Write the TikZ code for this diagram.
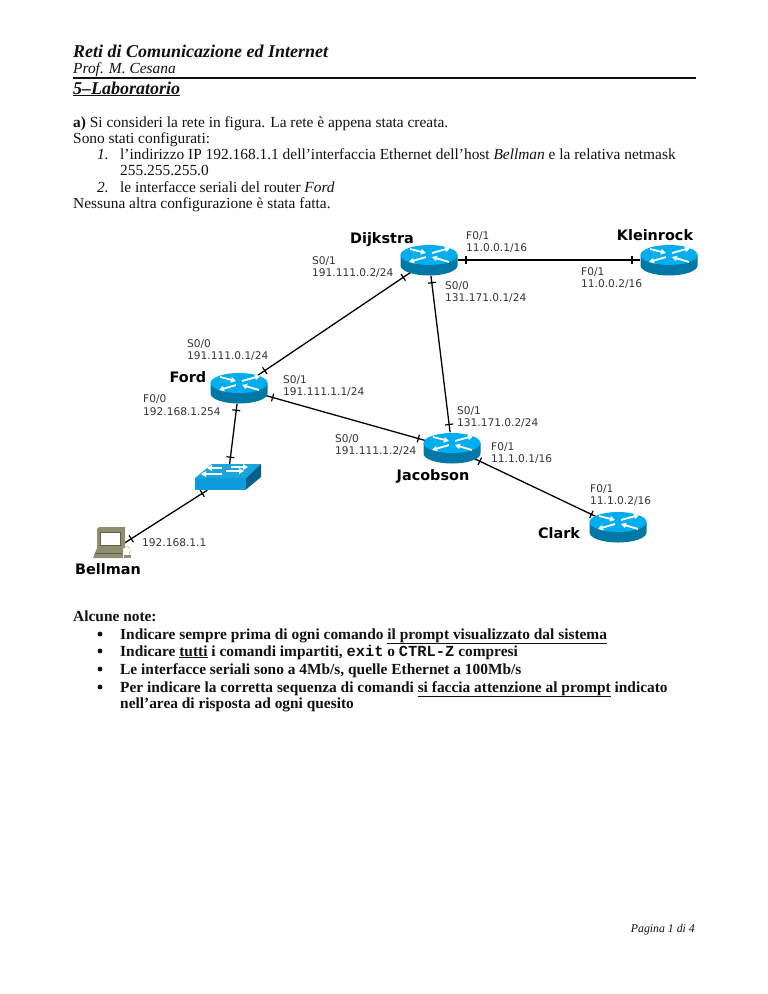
\documentclass[tikz,border=0pt]{standalone}
\usepackage{fontspec}
\setmainfont{Liberation Serif}
\setmonofont{Liberation Mono}
\newfontfamily\netfont{DejaVu Sans}
\usetikzlibrary{arrows.meta, shapes.geometric}
\definecolor{ink}{HTML}{111111}
\definecolor{lblgray}{HTML}{333333}
\definecolor{rtop}{HTML}{00AEEF}
\definecolor{rside}{HTML}{0078A6}
\definecolor{swtop}{HTML}{1AA5DC}
\definecolor{swfront}{HTML}{0C9CDC}
\definecolor{swside}{HTML}{04628A}
\definecolor{pcbody}{HTML}{8E8E70}
\definecolor{pcdark}{HTML}{5F5F48}
\tikzset{
  body/.style={font=\fontsize{15.4}{16.3}\selectfont, text=ink, anchor=base west, inner sep=0pt},
  bodyb/.style={body, font=\fontsize{15.4}{16.3}\selectfont\bfseries},
  headt/.style={body, font=\fontsize{18}{20}\selectfont\bfseries\itshape},
  %
  rnode/.style={ellipse, minimum width=57pt, minimum height=31pt, inner sep=0pt},
  swnode/.style={rectangle, minimum width=66pt, minimum height=26pt, inner sep=0pt},
  pcnode/.style={rectangle, minimum width=22pt, minimum height=30pt, inner sep=0pt},
  %
  link/.style={draw=black, line width=1.3pt},
  tick/.style={sloped, fill=black, minimum width=1.2pt, minimum height=8pt, inner sep=0pt, rectangle},
  %
  iface/.style={font=\netfont\fontsize{10.6}{12.5}\selectfont, text=lblgray, align=left, anchor=west, inner sep=0pt},
  rname/.style={font=\netfont\bfseries\fontsize{14.4}{16}\selectfont, text=black, inner sep=0pt},
  wharrow/.style={draw=white, line width=1.8pt, -{Triangle[length=5pt, width=5.5pt]}},
  %
  router/.pic={
    \fill[rside] (-28.5,-5) -- (-28.5,5.5) arc[start angle=180, end angle=0, x radius=28.5, y radius=10] -- (28.5,-5) -- cycle;
    \fill[rtop] (0,-5) ellipse[x radius=28.5, y radius=10];
    \draw[wharrow] (-19,-11) -- (-3,-7);
    \draw[wharrow] (3,-7) -- (21,-12);
    \draw[wharrow] (-3,-3) -- (-20,2);
    \draw[wharrow] (20,2) -- (3,-3);
  },
  switchbox/.pic={
    \fill[swtop] (-33,1) -- (-16,-13) -- (33,-13) -- (18,1) -- cycle;
    \fill[swfront] (-33,1) rectangle (18,12.5);
    \fill[swside] (18,1) -- (33,-13) -- (33,0) -- (18,12.5) -- cycle;
    \draw[wharrow, line width=1.4pt] (-6,-9) -- (-21,-9);
    \draw[wharrow, line width=1.4pt] (3,-10) -- (20,-10);
    \draw[wharrow, line width=1.4pt] (-6,-3) -- (-27,-3);
    \draw[wharrow, line width=1.4pt] (-2,-6) -- (16,-6);
  },
  pcicon/.pic={
    \fill[pcbody] (-15,-22) -- (-13,-24) -- (13,-24) -- (13,-3) -- (-15,-3) -- cycle;
    \fill[white] (-12,-19) rectangle (8,-6);
    \draw[pcdark, line width=0.6pt] (-12,-19) rectangle (8,-6);
    \fill[pcbody] (-19,7) -- (-15,-3) -- (11,-3) -- (11,7) -- cycle;
    \draw[pcdark, line width=0.5pt] (-17,2) -- (10,2);
    \fill[pcbody] (12,4) rectangle (19,7);
    \draw[gray!60, line width=0.5pt] (12,-4) .. controls (18,-6) and (20,-2) .. (17,4);
  },
}
\begin{document}
\begin{tikzpicture}[x=1pt, y=-1pt]
\path[use as bounding box] (0,0) rectangle (768,994);

% ---------------------------------------------------------------- header
\node[headt] (title) at (73,57) {Reti di Comunicazione ed Internet};
\node[body, font=\fontsize{15.4}{16.3}\selectfont\itshape] (prof) at (73,73) {Prof. M. Cesana};
\draw[ink, line width=2pt] (73,78) -- (696,78);
\node[headt] (lab) at (73,94) {\underline{5--Laboratorio}};

% ------------------------------------------------------------------ text
\node[body] (t1) at (73,127) {\textbf{a)} Si consideri la rete in figura. La rete è appena stata creata.};
\node[body] (t2) at (73,143) {Sono stati configurati:};
\node[body] (n1) at (97,159) {\textit{1.}};
\node[body] (t3) at (120,159) {l’indirizzo IP 192.168.1.1 dell’interfaccia Ethernet dell’host \textit{Bellman} e la relativa netmask};
\node[body] (t4) at (120,175) {255.255.255.0};
\node[body] (n2) at (97,192) {\textit{2.}};
\node[body] (t5) at (120,192) {le interfacce seriali del router \textit{Ford}};
\node[body] (t6) at (73,208) {Nessuna altra configurazione è stata fatta.};

% --------------------------------------------------------------- network
\node[rnode] (dijkstra) at (429,260) {};
\node[rnode] (kleinrock) at (669,260) {};
\node[rnode] (ford) at (239,388) {};
\node[rnode] (jacobson) at (452,448) {};
\node[rnode] (clark) at (618,527) {};
\node[swnode] (sw) at (228,477) {};
\node[pcnode] (bellman) at (112,551) {};

\draw[link] (ford) -- node[tick, pos=0.05] {} node[tick, pos=0.95] {} (dijkstra);
\draw[link] (dijkstra) -- node[tick, pos=0.045] {} node[tick, pos=0.955] {} (kleinrock);
\draw[link] (dijkstra) -- node[tick, pos=0.045] {} node[tick, pos=0.95] {} (jacobson);
\draw[link] (ford) -- node[tick, pos=0.05] {} node[tick, pos=0.95] {} (jacobson);
\draw[link] (ford) -- node[tick, pos=0.11] {} node[tick, pos=0.89] {} (sw);
\draw[link] (sw) -- node[tick, pos=0.06] {} node[tick, pos=0.905] {} (bellman);
\draw[link] (jacobson) -- node[tick, pos=0.05] {} node[tick, pos=0.96] {} (clark);

\foreach \r in {dijkstra,kleinrock,ford,jacobson,clark} { \pic at (\r) {router}; }
\pic at (sw) {switchbox};
\pic at (bellman) {pcicon};

\node[rname] (ldij) at (382,240) {Dijkstra};
\node[rname] (lkle) at (655,235) {Kleinrock};
\node[rname] (lfor) at (188,377) {Ford};
\node[rname] (ljac) at (433,476) {Jacobson};
\node[rname] (lcla) at (559,533) {Clark};
\node[rname] (lbel) at (108,569) {Bellman};

\node[iface] (i1) at (312,267) {S0/1\\191.111.0.2/24};
\node[iface] (i2) at (187,350) {S0/0\\191.111.0.1/24};
\node[iface] (i3) at (283,386) {S0/1\\191.111.1.1/24};
\node[iface] (i4) at (143,405) {F0/0\\192.168.1.254};
\node[iface] (i5) at (335,445) {S0/0\\191.111.1.2/24};
\node[iface] (i6) at (142,543) {192.168.1.1};
\node[iface] (i7) at (466,242) {F0/1\\11.0.0.1/16};
\node[iface] (i8) at (581,278) {F0/1\\11.0.0.2/16};
\node[iface] (i9) at (445,292) {S0/0\\131.171.0.1/24};
\node[iface] (i10) at (457,417) {S0/1\\131.171.0.2/24};
\node[iface] (i11) at (491,453) {F0/1\\11.1.0.1/16};
\node[iface] (i12) at (590,495) {F0/1\\11.1.0.2/16};

% ----------------------------------------------------------------- notes
\node[bodyb] (nt) at (73,621) {Alcune note:};
\foreach \y in {639,656,674,692} { \fill[ink] (100,\y-5) circle (2.4pt); }
\node[bodyb] (b1) at (120,639) {Indicare sempre prima di ogni comando \underline{il prompt visualizzato dal sistema}};
\node[bodyb] (b2) at (120,656) {Indicare \underline{tutti} i comandi impartiti, \texttt{exit} o \texttt{CTRL-Z} compresi};
\node[bodyb] (b3) at (120,674) {Le interfacce seriali sono a 4Mb/s, quelle Ethernet a 100Mb/s};
\node[bodyb] (b4) at (120,692) {Per indicare la corretta sequenza di comandi \underline{si faccia attenzione al prompt} indicato};
\node[bodyb] (b5) at (120,708) {nell’area di risposta ad ogni quesito};

\node[body, anchor=base east, font=\fontsize{11.8}{14}\selectfont\itshape] (pag) at (695,932) {Pagina 1 di 4};

\end{tikzpicture}
\end{document}
